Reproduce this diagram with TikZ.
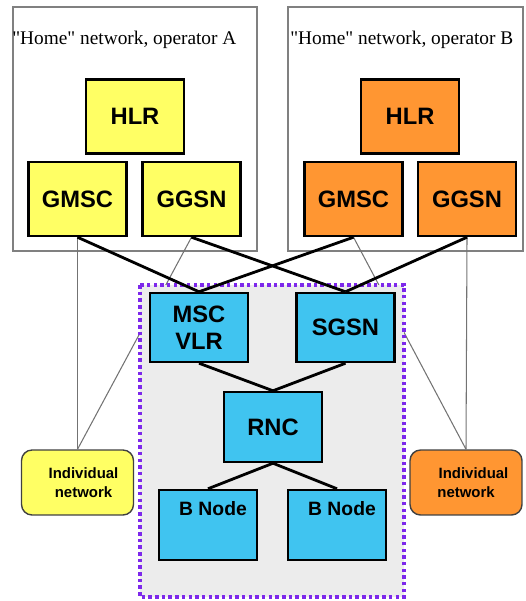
\documentclass[tikz,border=0pt]{standalone}
\usepackage{fontspec}
\setmainfont{Liberation Serif}[Ligatures=TeXOff]
\setsansfont{Liberation Sans}
\usepackage{tikz}
\usetikzlibrary{positioning}

\definecolor{homeyellow}{RGB}{255,255,100}
\definecolor{homeorange}{RGB}{255,150,50}
\definecolor{visitblue}{RGB}{64,196,240}
\definecolor{visitgray}{RGB}{236,236,236}
\definecolor{dotpurple}{RGB}{125,40,235}

\begin{document}
\begin{tikzpicture}[x=0.02cm, y=-0.02cm,
  netbox/.style={draw=black, line width=1.4pt, minimum width=1.96cm, minimum height=1.48cm,
    font=\sffamily\bfseries\fontsize{13.5}{15.5}\selectfont, align=center, inner sep=0pt},
  indiv/.style={draw=black!75, line width=0.8pt, rounded corners=6pt, minimum width=2.24cm,
    minimum height=1.3cm, font=\sffamily\bfseries\fontsize{8.5}{11}\selectfont, align=center},
  bnodetext/.style={font=\sffamily\bfseries\fontsize{11}{13}\selectfont, anchor=north,
    inner sep=0pt, yshift=-0.24cm, xshift=0.1cm},
  trunk/.style={line width=1.6pt},
  tap/.style={draw=black!55, line width=0.6pt}]
\useasboundingbox (0,0) rectangle (525,601);
\draw[black!50, line width=0.6pt] (13,7) rectangle (257,251);
\draw[black!50, line width=0.6pt] (288,7) rectangle (523,251);
\node[anchor=base west, inner sep=0pt, font=\fontsize{11}{13}\selectfont] (homeA) at (12,45) {"Home" network, operator A};
\node[anchor=base west, inner sep=0pt, font=\fontsize{11}{13}\selectfont] (homeB) at (290,45) {"Home" network, operator B};
\node[netbox, fill=homeyellow] (hlrA) at (135,116.5) {HLR};
\node[netbox, fill=homeyellow] (gmscA) at (77.5,199) {GMSC};
\node[netbox, fill=homeyellow] (ggsnA) at (191.5,199) {GGSN};
\node[netbox, fill=homeorange] (hlrB) at (410,116.5) {HLR};
\node[netbox, fill=homeorange] (gmscB) at (353.5,199) {GMSC};
\node[netbox, fill=homeorange] (ggsnB) at (467,199) {GGSN};
\node[indiv, fill=homeyellow] (indA) at (77.5,482.5) {\hspace*{0.24cm}Individual\\\hspace*{0.24cm}network};
\node[indiv, fill=homeorange] (indB) at (466,482.5) {\hspace*{0.3cm}Individual\\network};
\draw[tap] (gmscA.south) -- (indA.north);
\draw[tap] (ggsnA.south) -- (indA.north);
\draw[tap] (gmscB.south) -- (indB.north);
\draw[tap] (ggsnB.south) -- (indB.north);
\filldraw[draw=dotpurple, fill=visitgray, line width=2pt, dash pattern=on 2pt off 1.8pt] (140,285) rectangle (404,597);
\node[netbox, fill=visitblue, minimum height=1.38cm] (msc) at (199,327.5) {MSC\\VLR};
\node[netbox, fill=visitblue, minimum height=1.38cm] (sgsn) at (345.5,327.5) {SGSN};
\node[netbox, fill=visitblue, minimum height=1.4cm] (rnc) at (273,427) {RNC};
\node[netbox, fill=visitblue, minimum height=1.4cm, label={[bnodetext]north:B Node}] (bnode1) at (208,525) {};
\node[netbox, fill=visitblue, minimum height=1.4cm, label={[bnodetext]north:B Node}] (bnode2) at (337,525) {};
\draw[trunk] (gmscA.south) -- (msc.north);
\draw[trunk] (gmscB.south) -- (msc.north);
\draw[trunk] (ggsnA.south) -- (sgsn.north);
\draw[trunk] (ggsnB.south) -- (sgsn.north);
\draw[trunk] (msc.south) -- (rnc.north);
\draw[trunk] (sgsn.south) -- (rnc.north);
\draw[trunk] (rnc.south) -- (bnode1.north);
\draw[trunk] (rnc.south) -- (bnode2.north);
\end{tikzpicture}
\end{document}
